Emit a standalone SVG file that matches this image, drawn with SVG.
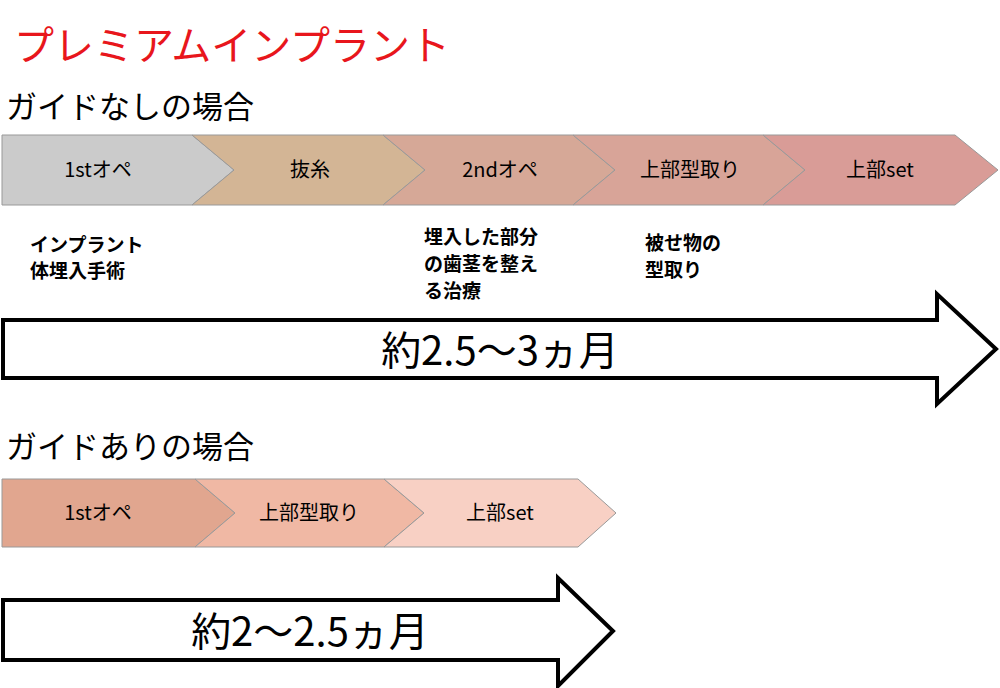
<svg xmlns="http://www.w3.org/2000/svg" width="1000" height="688" viewBox="0 0 1000 688">
<style>
text{font-family:"Noto Sans CJK JP","Noto Sans",sans-serif;fill:#000}
.ch{stroke:#999;stroke-width:1}
.lb{font-size:20px;text-anchor:middle}
.ds{font-size:19px;font-weight:bold}
.big{fill:#fff;stroke:#000;stroke-width:4}
.bt{font-size:40px;text-anchor:middle}
.h{font-size:31px}
</style>
<rect width="1000" height="688" fill="#fff"/>
<text x="14" y="60" style="font-size:40px;fill:#e8161c">プレミアムインプラント</text>
<text x="6" y="118" class="h">ガイドなしの場合</text>
<g id="r1">
<g id="n1"><polygon class="ch" fill="#cbcbcb" points="2,135 192,135 234,170 192,205 2,205"/><text class="lb" x="98" y="177">1stオペ</text></g>
<g id="n2"><polygon class="ch" fill="#d3b595" points="192,135 383,135 425,170 383,205 192,205 234,170"/><text class="lb" x="310" y="177">抜糸</text></g>
<g id="n3"><polygon class="ch" fill="#d6a897" points="383,135 573,135 615,170 573,205 383,205 425,170"/><text class="lb" x="500" y="177">2ndオペ</text></g>
<g id="n4"><polygon class="ch" fill="#d8a498" points="573,135 763,135 805,170 763,205 573,205 615,170"/><text class="lb" x="690" y="177">上部型取り</text></g>
<g id="n5"><polygon class="ch" fill="#d99c97" points="763,135 955,135 998,170 955,205 763,205 805,170"/><text class="lb" x="880" y="177">上部set</text></g>
</g>
<g id="desc">
<text class="ds" x="30" y="252">インプラント</text>
<text class="ds" x="30" y="278">体埋入手術</text>
<text class="ds" x="424" y="244">埋入した部分</text>
<text class="ds" x="424" y="271">の歯茎を整え</text>
<text class="ds" x="424" y="298">る治療</text>
<text class="ds" x="645" y="250">被せ物の</text>
<text class="ds" x="645" y="277">型取り</text>
</g>
<g id="a1"><polygon class="big" points="3,320 937,320 937,294 996,349 937,404 937,378 3,378"/><text class="bt" x="500" y="365">約2.5〜3ヵ月</text></g>
<text x="6" y="458" class="h">ガイドありの場合</text>
<g id="r2">
<g id="m1"><polygon class="ch" fill="#e1a68f" points="2,479 195,479 235,513 195,547 2,547"/><text class="lb" x="98" y="520">1stオペ</text></g>
<g id="m2"><polygon class="ch" fill="#f0b8a4" points="195,479 384,479 424,513 384,547 195,547 235,513"/><text class="lb" x="309" y="520">上部型取り</text></g>
<g id="m3"><polygon class="ch" fill="#f8d0c4" points="384,479 578,479 616,513 578,547 384,547 424,513"/><text class="lb" x="500" y="520">上部set</text></g>
</g>
<g id="a2"><polygon class="big" points="3,600 558,600 558,578 613,631 558,686 558,660 3,660"/><text class="bt" x="310" y="646">約2〜2.5ヵ月</text></g>
</svg>
